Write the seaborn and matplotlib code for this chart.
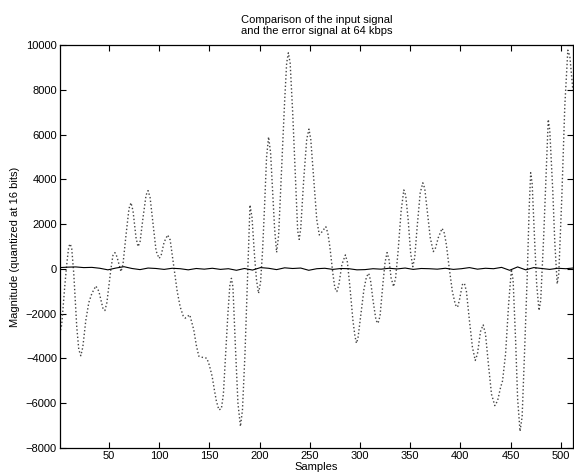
import numpy as np
import pandas as pd
import seaborn as sns
import matplotlib
matplotlib.use('Agg')
import matplotlib.pyplot as plt

# input signal, values (sample index, magnitude)
sig_x = [1, 3, 6, 8, 10, 11.5, 13, 15, 18, 20, 22, 24, 27, 30, 33, 37, 40, 44,
         46, 48, 52, 54, 56, 58, 62, 64, 67, 70, 72, 74, 77, 79, 81, 84, 87, 89,
         91, 94, 97, 100, 102, 105, 108.5, 111, 115, 118, 121, 124, 126, 130.5,
         134.5, 137, 139.5, 143, 147.5, 150, 152.8, 155, 157, 159.5, 162, 164,
         166, 168.5, 170.5, 172, 173.5, 176, 178.5, 181, 183, 185.5, 188, 190.5,
         192.5, 195, 197, 199, 201, 203, 205, 207, 209, 211, 213, 215, 217, 219,
         222, 225, 227, 228.7, 230.5, 233, 236, 238, 239.5, 241, 244, 247, 249.2,
         251, 254, 257, 259.5, 262, 266, 268, 270, 273, 275, 277, 279, 282,
         285.5, 287.5, 290, 293, 295, 296.5, 298, 301, 304, 306.5, 308.7, 310.5,
         313, 316, 318, 320, 323, 325, 327, 329, 331, 333.5, 335.5, 338, 341,
         343.7, 345.5, 348, 350.5, 352.6, 354.5, 357, 360, 362.6, 364.5, 367,
         370, 373, 375, 378, 381.8, 384, 386, 389, 392, 395, 397.2, 399, 402,
         404, 406, 409, 412, 414.8, 417, 420, 422.7, 425, 428, 431, 434.3, 437,
         440, 442, 445, 448, 450.8, 452.5, 455, 457, 459.4, 461.5, 464, 466.5,
         468.5, 470, 471.5, 474, 476, 478.3, 480, 483, 486, 487.5, 489, 492, 494,
         496.4, 498, 501, 504, 507, 509, 512]
sig_y = [-2900, -2500, -800, 200, 1000, 1120, 900, -200, -2600, -3600, -3880,
         -3500, -2300, -1500, -1100, -760, -1000, -1750, -1860, -1500, 0, 600,
         730, 550, -120, 200, 1500, 2700, 2960, 2600, 1400, 1000, 1200, 2300,
         3300, 3500, 3200, 2000, 800, 470, 600, 1200, 1520, 1300, 0, -1000,
         -1700, -2100, -2200, -2050, -2720, -3400, -3900, -3950, -3990, -4300,
         -4800, -5400, -5900, -6300, -6250, -5600, -4000, -2000, -700, -420,
         -800, -3500, -6000, -7040, -6300, -3800, -500, 2860, 2300, 600, -500,
         -1090, -600, 800, 2800, 5000, 5900, 5200, 3500, 1800, 740, 1500, 4500,
         7500, 9200, 9660, 9200, 7000, 3800, 1700, 1320, 1800, 4000, 5800, 6250,
         5800, 4000, 2200, 1520, 1650, 1890, 1600, 1000, -200, -850, -1010,
         -700, 200, 625, 300, -800, -2300, -3000, -3320, -3100, -2000, -900,
         -350, -195, -500, -1400, -2300, -2430, -2100, -600, 300, 730, 400,
         -400, -790, -400, 800, 2600, 3530, 3300, 2200, 700, 100, 500, 1900,
         3400, 3850, 3600, 2600, 1400, 775, 900, 1400, 1815, 1600, 1100, 0,
         -1000, -1600, -1710, -1400, -700, -640, -1000, -2300, -3500, -4090,
         -3800, -2800, -2500, -2900, -4300, -5600, -6110, -5900, -5300, -5000,
         -3800, -1600, -15, -500, -3200, -5800, -7260, -6600, -3600, -400, 2700,
         4300, 3800, 1200, -700, -1860, -1400, 1500, 5000, 6680, 6200, 3500,
         1200, -670, -200, 3200, 7300, 9780, 9500, 8000]

# error signal (small residual around zero)
err_x = list(range(1, 513, 8)) + [512]
err_y = [60, 80, 90, 60, 70, 30, -40, 40, 100, 20, -30, 40, 20, -20, 30, 10,
         -40, 20, -10, 30, -20, 10, -60, 20, -50, 60, 30, -30, 50, 20, 40, -60,
         10, 30, -20, 20, 10, -40, -30, 10, -10, 30, 0, 40, -20, 20, 10, -10,
         30, -20, 10, 60, -10, 30, 10, 70, -60, 90, -40, 60, 20, -20, 30, 10,
         40]

x_ticks = [50, 100, 150, 200, 250, 300, 350, 400, 450, 500]
y_ticks = [-8000, -6000, -4000, -2000, 0, 2000, 4000, 6000, 8000, 10000]

sns.set_style('ticks')
plt.rcParams['font.family'] = ['Liberation Sans', 'DejaVu Sans']
plt.rcParams['xtick.direction'] = 'in'
plt.rcParams['ytick.direction'] = 'in'
plt.rcParams['text.color'] = 'black'
plt.rcParams['axes.labelcolor'] = 'black'
plt.rcParams['xtick.color'] = 'black'
plt.rcParams['ytick.color'] = 'black'

sig = pd.DataFrame({'x': sig_x, 'y': sig_y})
err = pd.DataFrame({'x': err_x, 'y': err_y})

fig, ax = plt.subplots(figsize=(5.74, 4.76), dpi=100)
fig.subplots_adjust(left=0.104, right=0.998, bottom=0.059, top=0.905)

sns.lineplot(data=sig, x='x', y='y', ax=ax, color='#444444', linestyle=':',
             linewidth=1.0, sort=False)
sns.lineplot(data=err, x='x', y='y', ax=ax, color='black', linewidth=0.8)

ax.set_xlim(1, 512)
ax.set_ylim(-8000, 10000)
ax.set_xticks(x_ticks)
ax.set_yticks(y_ticks)
ax.tick_params(top=True, right=True, labelsize=8, length=4, width=0.8, pad=2)
for s in ax.spines.values():
    s.set_linewidth(0.9)
    s.set_color('black')

ax.set_title('Comparison of the input signal\nand the error signal at 64 kbps',
             fontsize=8, linespacing=1.1, pad=8)
ax.set_xlabel('Samples', fontsize=8, labelpad=1)
ax.set_ylabel('Magnitude (quantized at 16 bits)', fontsize=8, labelpad=4)

fig.savefig('out.png', dpi=100)
